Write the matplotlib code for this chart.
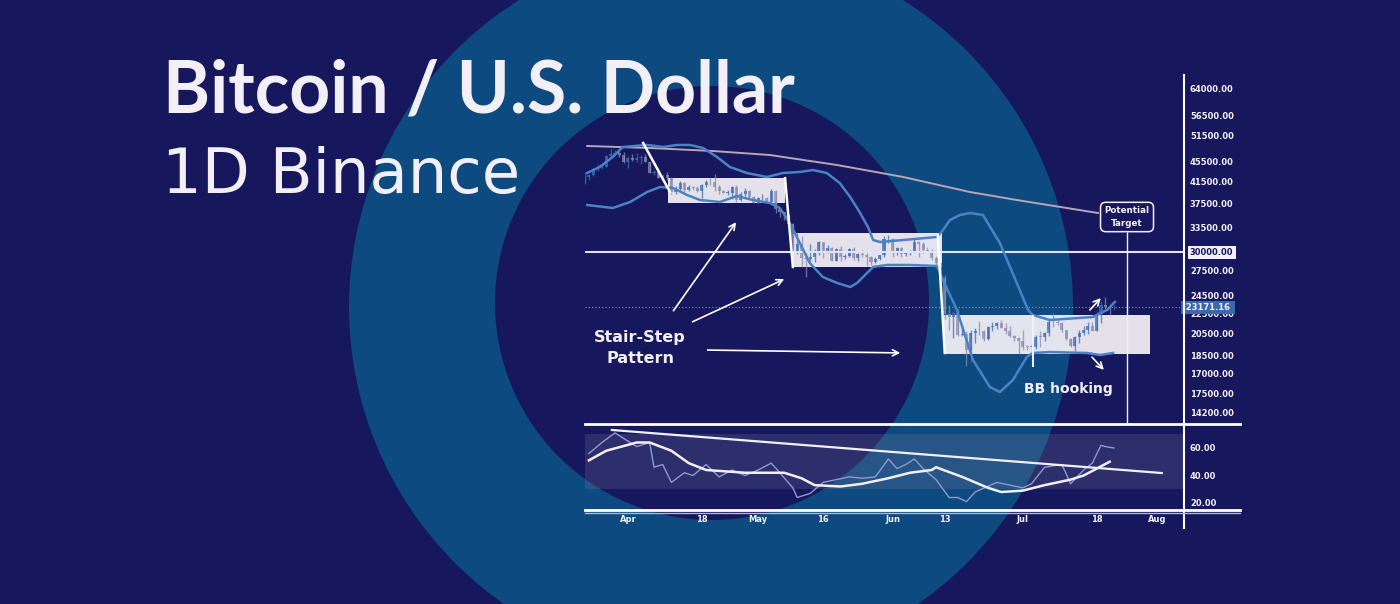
import numpy as np
import matplotlib
matplotlib.use('Agg')
import matplotlib.pyplot as plt
from matplotlib.patches import Circle
from matplotlib.lines import Line2D
from matplotlib.ticker import NullLocator

W, H = 1400, 604
BG = '#16175c'
RING = '#0d4a7f'
WHITE = '#f3eff6'
UP = '#3a6cb6'
DOWN = '#8e8bab'
BAND = '#4b82c6'

# ---- daily candles, 22 Mar -> 22 Jul (day 0 = 1 Apr) ----
first_day = -10
opens = [41260, 42360, 42890, 43960, 44350, 44500, 46820, 47130, 47430, 47060,
         45530, 46280, 45810, 46410, 46580, 45500, 43170, 43440, 42250, 42750,
         42160, 39530, 40070, 41150, 39940, 40550, 40380, 39680, 40800, 41500,
         41360, 40480, 39710, 39450, 39450, 40430, 38110, 39240, 39740, 38600,
         37630, 38470, 38530, 37750, 39700, 36550, 36010, 35470, 34040, 30080,
         31020, 29100, 29030, 29280, 30080, 31320, 29830, 30450, 28710, 30310,
         29200, 29430, 30300, 29100, 29650, 29540, 29200, 28630, 29030, 29470,
         31730, 31800, 29800, 30450, 29700, 29860, 29910, 31370, 31130, 30200,
         30110, 29090, 28420, 26570, 22490, 22140, 22580, 20380, 20470, 19020,
         20550, 20720, 20710, 19990, 21100, 21230, 21500, 21030, 20730, 20250,
         20100, 19780, 19300, 19240, 19300, 20220, 20190, 20550, 21630, 21590,
         21580, 20830, 19960, 19320, 20210, 20580, 20830, 21190, 20780, 22430,
         23400, 23230, 23150]
closes = [42360, 42890, 43960, 44350, 44500, 46820, 47130, 47430, 47060, 45530,
          46280, 45810, 46410, 46580, 45500, 43170, 43440, 42250, 42750, 42160,
          39530, 40070, 41150, 39940, 40550, 40380, 39680, 40800, 41500, 41360,
          40480, 39710, 39450, 39450, 40430, 38110, 39240, 39740, 38600, 37630,
          38470, 38530, 37750, 39700, 36550, 36010, 35470, 34040, 30080, 31020,
          29100, 29030, 29280, 30080, 31320, 29830, 30450, 28710, 30310, 29200,
          29430, 30300, 29100, 29650, 29540, 29200, 28630, 29030, 29470, 31730,
          31800, 29800, 30450, 29700, 29860, 29910, 31370, 31130, 30200, 30110,
          29090, 28420, 26570, 22490, 22140, 22580, 20380, 20470, 19020, 20550,
          20720, 20710, 19990, 21100, 21230, 21500, 21030, 20730, 20250, 20100,
          19780, 19300, 19240, 19300, 20220, 20190, 20550, 21630, 21590, 21580,
          20830, 19960, 19320, 20210, 20580, 20830, 21190, 20780, 22430, 23400,
          23230, 23150, 23171]
highs = [43360, 43000, 44200, 45100, 44800, 46900, 48190, 48100, 47700, 47600,
         46720, 47210, 47440, 46890, 47200, 45500, 43900, 43970, 42800, 43430,
         42420, 40700, 41560, 41500, 40860, 40710, 40600, 41100, 41760, 42200,
         42980, 40800, 39980, 39930, 40620, 40800, 39470, 40370, 39920, 38800,
         38670, 39170, 38630, 40020, 39850, 36660, 36130, 35500, 34250, 32660,
         32190, 30030, 31080, 30330, 31460, 31320, 31000, 30700, 30550, 30760,
         29600, 30480, 30670, 29830, 30220, 29850, 29380, 29250, 29580, 32220,
         32400, 31980, 30700, 30680, 29950, 30150, 31770, 31560, 31330, 30700,
         30380, 29440, 28570, 26880, 23360, 22800, 22980, 21360, 20780, 20820,
         21080, 21720, 20880, 21230, 21620, 21600, 21870, 21540, 21200, 20410,
         20150, 20880, 19430, 19650, 20350, 20750, 20660, 21840, 22530, 21950,
         21600, 20860, 20060, 20250, 20880, 21200, 21590, 21680, 22740, 23800,
         24280, 23430, 23400]
lows = [41000, 41850, 42600, 43600, 44100, 44400, 46660, 46940, 46560, 45200,
        44200, 45630, 45530, 45120, 45360, 43120, 42730, 42110, 42130, 41870,
        39200, 39250, 39550, 39550, 39770, 40000, 39540, 38540, 40570, 40820,
        39750, 39180, 39280, 38930, 38200, 37700, 37880, 38880, 38180, 37580,
        37390, 38050, 37500, 37670, 35860, 35260, 34780, 33710, 30030, 29730,
        27900, 26700, 28750, 28640, 29480, 29090, 29830, 28660, 28700, 28730,
        28950, 29240, 28850, 28650, 29300, 28020, 28200, 28450, 28790, 29300,
        31210, 29300, 29560, 29250, 29450, 29500, 29880, 29220, 29850, 29940,
        28850, 28100, 26560, 21930, 20850, 20070, 20230, 20250, 17620, 17960,
        19640, 20350, 19770, 19890, 20740, 20900, 21000, 20500, 20190, 19850,
        18630, 18970, 18980, 18780, 19060, 19300, 19770, 20240, 21180, 21330,
        20650, 19880, 19240, 18910, 19620, 20380, 20480, 20760, 20760, 21580,
        23020, 22340, 22900]

# Bollinger bands
bb_up_days = [-9.4, -6.5, -3.5, -1.2, 4.4, 8.1, 11.3, 14.3, 17.3, 20.5, 23.5, 27.4,
              32, 35.7, 39.6, 42.6, 45.8, 48.8, 51.2, 53.5, 55.3, 56.5, 58.1, 63.4,
              71.2, 72.6, 74.2, 76.5, 78.8, 81.8, 85.7, 89.6, 92.2, 93.3, 97.2,
              107.1, 110.4, 112.2]
bb_up = [43200, 44420, 46540, 48740, 49200, 48740, 49200, 49200, 48520, 46540, 44420,
         43200, 42400, 43200, 43400, 43800, 43200, 41240, 38650, 35880, 33630, 31650,
         31360, 31650, 32100, 33160, 34730, 35550, 35880, 35550, 31220, 25930, 22870,
         22350, 21840, 22140, 22870, 23750]
bb_lo_days = [-9.4, -3.5, 0.5, 4.4, 7.4, 10.4, 13.6, 16.6, 21.2, 25.1, 28.8, 32.7,
              35, 37.3, 39.6, 41.9, 44.9, 48.2, 51.2, 52.8, 55.1, 56.5, 59.7, 65,
              71.2, 72.6, 75.8, 79.5, 83.4, 85.7, 88.7, 91.9, 93.3, 97.2, 105.8,
              108.8, 111.8]
bb_lo = [37240, 36720, 37760, 39550, 40480, 40290, 39010, 38110, 37760, 38830, 38110,
         37590, 36720, 34250, 31220, 28450, 26660, 25930, 25450, 25930, 27160, 27930,
         28190, 28190, 28060, 26290, 22870, 18140, 16000, 15630, 16530, 18390, 18740,
         18820, 18740, 18560, 18740]

# long moving average (grey line)
ma_days = [-9.4, 5.1, 19.6, 32.7, 48.2, 63.4, 78.8, 89.6, 108.3]
ma_vals = [48970, 48510, 47840, 46960, 44830, 42410, 39550, 38110, 35880]

# consolidation boxes: (day from, day to, low, high)
boxes = [(9.2, 36.2, 37590, 42170),
         (38.0, 72.4, 27930, 32700),
         (72.8, 120.3, 18650, 22350)]
# white stair edges: (day0, price0, day1, price1)
stairs = [(3.5, 49650, 9.7, 39530),
          (36.2, 42170, 38.0, 27930),
          (71.4, 32400, 73.0, 18740)]

level = 30000
last_price = 23171.16

price_ticks = [64000, 56500, 51500, 45500, 41500, 37500, 33500, 30000, 27500,
               24500, 22500, 20500, 18500, 17000, 15500, 14200]
price_labels = ['64000.00', '56500.00', '51500.00', '45500.00', '41500.00', '37500.00',
                '33500.00', '30000.00', '27500.00', '24500.00', '22500.00', '20500.00',
                '18500.00', '17000.00', '17500.00', '14200.00']

# RSI panel
rsi_days = [-9, -6, -3, -1, 2, 5, 6, 8, 10, 13, 15, 18, 21, 24, 27, 30, 33, 35, 38,
            39, 42, 45, 48, 51, 54, 57, 60, 62, 64, 66, 68, 71, 74, 76, 78, 80, 85,
            88, 91, 93, 96, 100, 102, 105, 107, 109, 110, 112]
rsi_vals = [56, 64, 71, 67, 61, 64, 46, 48, 35, 42, 40, 48, 39, 44, 40, 44, 49, 42, 31,
            24, 27, 35, 37, 39, 38, 39, 52, 45, 48, 52, 45, 37, 24, 24, 21, 28, 35,
            33, 31, 34, 46, 48, 34, 44, 49, 62, 61, 60]
rsi_ma_days = [-9, -5, 2, 5, 10, 14, 18, 27, 36, 40, 43, 49, 54, 60, 65, 70, 71, 77,
               83, 86, 91, 96, 102, 105, 111]
rsi_ma = [51, 58, 64, 64, 58, 49, 44, 42, 42, 38, 33, 32, 34, 38, 42, 44, 46, 39, 31,
          28, 29, 33, 37, 40, 50]
rsi_trend_days = [-3.7, 123]
rsi_trend = [73.1, 41.8]

date_ticks = [0, 17, 30, 45, 61, 73, 91, 108, 122]
date_labels = ['Apr', '18', 'May', '16', 'Jun', '13', 'Jul', '18', 'Aug']


def fx(x):
    return x / W


def fy(y):
    return 1 - y / H


fig = plt.figure(figsize=(14, 6.04), dpi=100)
fig.patch.set_facecolor(BG)

# background rings
bg = fig.add_axes([0, 0, 1, 1])
bg.set_xlim(0, W)
bg.set_ylim(H, 0)
bg.axis('off')
bg.add_patch(Circle((711, 307), 362, color=RING, lw=0))
bg.add_patch(Circle((712, 303), 217, color=BG, lw=0))

fig.text(fx(163), fy(112), 'Bitcoin / U.S. Dollar', family='Lato', weight='bold',
         fontsize=51.5, color=WHITE, va='baseline')
fig.text(fx(162), fy(193), '1D Binance', family='DejaVu Sans', weight='normal',
         fontsize=45, color=WHITE, va='baseline')

# ---- price panel ----
ax = fig.add_axes([fx(585), fy(424), (1183 - 585) / W, (424 - 75) / H])
ax.set_facecolor('none')
ax.set_yscale('log')
ax.set_xlim(-9.9, 127.9)
ax.set_ylim(13477, 68074)
for s in ax.spines.values():
    s.set_visible(False)
ax.set_xticks([])
ax.yaxis.tick_right()
ax.set_yticks(price_ticks)
ax.set_yticklabels(price_labels)
ax.yaxis.set_minor_locator(NullLocator())
ax.tick_params(axis='y', length=0, pad=5, labelsize=6, labelcolor=WHITE)
for lab in ax.get_yticklabels():
    lab.set_fontweight('bold')
    if lab.get_text() == '30000.00':
        lab.set_color(BG)
        lab.set_bbox(dict(fc=WHITE, ec='none', pad=1.6))

ax.plot(ma_days, ma_vals, color='#b8a5b6', lw=1.4, zorder=1.5)

for d0, d1, lo, hi in boxes:
    ax.fill_between([d0, d1], lo, hi, color='#f5f2f7', alpha=0.93, lw=0, zorder=2)

# candles sit on top of the boxes, a little faded
days = np.arange(first_day, first_day + len(closes))
o = np.array(opens, float)
c = np.array(closes, float)
cols = [UP if cc >= oo else DOWN for oo, cc in zip(o, c)]
ax.vlines(days, lows, highs, colors=cols, lw=1.0, alpha=0.75, zorder=3)
ax.bar(days, np.maximum(np.abs(c - o), 80), bottom=np.minimum(o, c), width=0.7,
       color=cols, lw=0, alpha=0.75, zorder=3)

ax.axhline(level, color='#dfe3f5', lw=1.5, zorder=3.5)
ax.axhline(last_price, color='#7f93cf', lw=0.8, ls=(0, (1, 2)), zorder=2.5)

ax.plot(bb_up_days, bb_up, color=BAND, lw=1.8, zorder=4)
ax.plot(bb_lo_days, bb_lo, color=BAND, lw=1.8, zorder=4)

for d0, p0, d1, p1 in stairs:
    ax.plot([d0, d1], [p0, p1], color='white', lw=1.8, zorder=5)

ax.text(1.0, last_price, ' 23171.16 ', transform=ax.get_yaxis_transform(),
        ha='left', va='center', fontsize=6, fontweight='bold', color=WHITE,
        bbox=dict(fc='#3c68ad', ec='none', pad=1.4), zorder=6, clip_on=False)

arrow = dict(arrowstyle='->', color='white', lw=1.2, mutation_scale=11)
ax.annotate('', xy=(25.3, 34750), xytext=(10.1, 22560), arrowprops=arrow, zorder=6)
ax.annotate('', xy=(36.6, 26540), xytext=(14.3, 21540), arrowprops=arrow, zorder=6)
ax.annotate('', xy=(63.4, 18740), xytext=(17.7, 19000), arrowprops=arrow, zorder=6)
ax.annotate('', xy=(109.4, 24410), xytext=(106.0, 22660), arrowprops=arrow, zorder=6)
ax.annotate('', xy=(110.1, 17160), xytext=(106.5, 18560), arrowprops=arrow, zorder=6)

ax.text(2.8, 19180, 'Stair-Step\nPattern', ha='center', va='center', fontsize=11.5,
        fontweight='bold', color=WHITE, linespacing=1.45, zorder=6)
ax.text(101.4, 15860, 'BB hooking', ha='center', va='center', fontsize=10,
        fontweight='bold', color=WHITE, zorder=6)
ax.vlines(93.3, 17570, 22350, color=WHITE, lw=1.5, zorder=5)

ax.vlines(115.0, 13477, 32860, color=WHITE, lw=1.0, zorder=5)
ax.text(115.0, 35220, 'Potential\nTarget', ha='center', va='center', fontsize=6.3,
        fontweight='bold', color=WHITE, linespacing=1.5, zorder=6,
        bbox=dict(boxstyle='round,pad=0.45,rounding_size=0.6', fc=BG, ec=WHITE, lw=1.1))

# ---- RSI panel ----
rx = fig.add_axes([fx(585), fy(511), (1183 - 585) / W, (511 - 424) / H])
rx.set_facecolor('none')
rx.set_xlim(-9.9, 127.9)
rx.set_ylim(14.18, 77.45)
for s in rx.spines.values():
    s.set_visible(False)
rx.axhspan(30, 70, color='#7a7aa0', alpha=0.24, lw=0)
rx.plot(rsi_days, rsi_vals, color='#8d9ad0', lw=1.0)
rx.plot(rsi_ma_days, rsi_ma, color=WHITE, lw=1.8)
rx.plot(rsi_trend_days, rsi_trend, color=WHITE, lw=1.6)
rx.yaxis.tick_right()
rx.set_yticks([20, 40, 60])
rx.set_yticklabels(['20.00', '40.00', '60.00'])
rx.set_xticks(date_ticks)
rx.set_xticklabels(date_labels)
rx.tick_params(length=0, labelsize=6, labelcolor=WHITE)
rx.tick_params(axis='y', pad=5)
rx.tick_params(axis='x', pad=3)
for lab in rx.get_yticklabels() + rx.get_xticklabels():
    lab.set_fontweight('bold')

# frame lines
frame = [((1183.5, 75), (1183.5, 528), 1.5, 'white'),
         ((585, 424), (1240, 424), 2.0, 'white'),
         ((585, 510), (1240, 510), 2.0, 'white'),
         ((585, 513), (1240, 513), 1.0, '#a9b4e0')]
for (x0, y0), (x1, y1), lw, col in frame:
    fig.add_artist(Line2D([fx(x0), fx(x1)], [fy(y0), fy(y1)], color=col, lw=lw,
                          transform=fig.transFigure))

fig.savefig('out.png', dpi=100, facecolor=BG)
